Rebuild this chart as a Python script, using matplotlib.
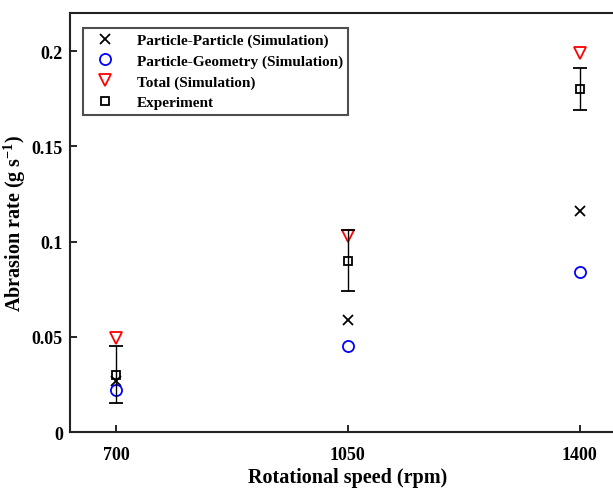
import matplotlib.pyplot as plt
from matplotlib.lines import Line2D

speed = [700, 1050, 1400]
pp_sim = [0.027, 0.059, 0.116]
pg_sim = [0.022, 0.045, 0.084]
total_sim = [0.0495, 0.103, 0.199]
exp_mean = [0.030, 0.090, 0.180]
exp_err = [0.015, 0.016, 0.011]

plt.rcParams['font.family'] = ['Liberation Serif', 'DejaVu Serif']
plt.rcParams['font.weight'] = 'bold'
plt.rcParams['mathtext.fontset'] = 'custom'
plt.rcParams['mathtext.rm'] = 'Liberation Serif:bold'
plt.rcParams['mathtext.default'] = 'rm'

fig = plt.figure(figsize=(6.13, 4.89), dpi=100)
ax = fig.add_axes([0.114, 0.1145, 0.907, 0.857])

ax.plot(speed, pp_sim, 'x', color='black', ms=7, mew=1.3)
ax.plot(speed, pg_sim, 'o', mfc='none', mec='blue', ms=8, mew=1.3)
ax.plot(speed, total_sim, 'v', mfc='none', mec='red', ms=9, mew=1.3)
ax.errorbar(speed, exp_mean, yerr=exp_err, fmt='s', mfc='none', mec='black', ms=6, mew=1.3,
            ecolor='black', elinewidth=1, capsize=5, capthick=1)

ax.set_xlim(630, 1470)
ax.set_ylim(0, 0.22)
ax.set_xticks(speed)
ax.set_xticklabels(['700', '1050', '1400'])
ax.set_yticks([0, 0.05, 0.1, 0.15, 0.2])
ax.set_yticklabels(['0', '0.05', '0.1', '0.15', '0.2'])
ax.tick_params(direction='in', length=5, width=1.2, labelsize=13)
ax.tick_params(axis='x', pad=10)
ax.tick_params(axis='y', pad=5)
for lbl in ax.get_xticklabels() + ax.get_yticklabels():
    lbl.set_fontweight('bold')
for s in ax.spines.values():
    s.set_linewidth(1.5)
    s.set_color('#222222')

ax.set_xlabel('Rotational speed (rpm)', fontsize=14.5, fontweight='bold', labelpad=3)
ax.set_ylabel('Abrasion rate (g s$^{-1}$)', fontsize=14.5, fontweight='bold', labelpad=3)

handles = [
    Line2D([], [], ls='none', marker='x', color='black', ms=7, mew=1.3),
    Line2D([], [], ls='none', marker='o', mfc='none', mec='blue', ms=8, mew=1.3),
    Line2D([], [], ls='none', marker='v', mfc='none', mec='red', ms=9, mew=1.3),
    Line2D([], [], ls='none', marker='s', mfc='none', mec='black', ms=6, mew=1.3),
]
labels = ['Particle-Particle (Simulation)', 'Particle-Geometry (Simulation)',
          'Total (Simulation)', 'Experiment']
leg = ax.legend(handles, labels, loc='upper left', bbox_to_anchor=(0.023, 0.964), fontsize=11,
                frameon=True, fancybox=False, edgecolor='#222222', handletextpad=1.0,
                borderpad=0.35, labelspacing=0.45, handlelength=2.2, borderaxespad=0)
leg.get_frame().set_linewidth(1.5)
for t in leg.get_texts():
    t.set_fontweight('bold')

fig.savefig('out.png', dpi=100)
